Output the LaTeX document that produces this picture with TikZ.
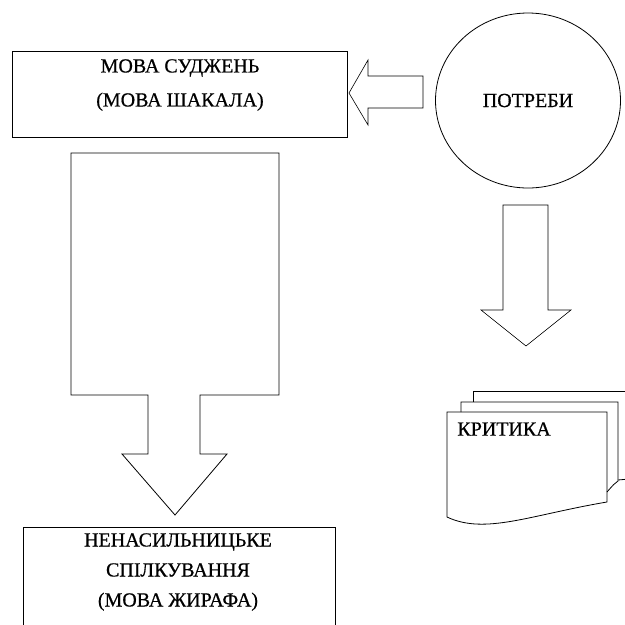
\documentclass[tikz,border=0pt]{standalone}
\usepackage{fontspec}
\setmainfont[FakeBold=0.6,AutoFakeBold=0.6]{Liberation Serif}

\usetikzlibrary{shapes.geometric}

\begin{document}
\begin{tikzpicture}[x=1pt,y=-1pt,line width=0.8pt,
    txt/.style={font=\fontsize{20}{34}\selectfont\bfseries,align=center,inner sep=0}]
    \useasboundingbox (0,0) rectangle (625,625);
    \clip (0,0) rectangle (625,625);
    % boxes
    \node[draw,minimum width=335,minimum height=86] (jackal) at (179.5,94) {};
    \node[txt] (jackaltext) at (180,85) {МОВА СУДЖЕНЬ\\(МОВА ШАКАЛА)};
    \draw (23,527) rectangle (335,650); % box cut by the edge
    \node[txt,font=\fontsize{20}{30}\selectfont\bfseries] (giraffe) at (178,572) {НЕНАСИЛЬНИЦЬКЕ\\СПІЛКУВАННЯ\\(МОВА ЖИРАФА)};
    \node[draw,ellipse,minimum width=185,minimum height=175,inner sep=0,font=\fontsize{20}{34}\selectfont\bfseries] (needs) at (528,100.5) {ПОТРЕБИ};
    % block arrows
    \draw[line width=0.6pt] (423,76)--(368,76)--(368,60)--(349,93)--(368,125)--(368,108)--(423,108)--cycle;
    \draw[line width=0.6pt] (503,205)--(548,205)--(548,310)--(571,310)--(526,346)--(481,310)--(503,310)--cycle;
    \draw (71,153)--(279,153)--(279,395)--(200,395)--(200,454)--(227,454)--(175,515)--(122,454)--(148,454)--(148,395)--(71,395)--cycle;
    % pages of the critique
    \draw (473,402)--(473,391)--(640,391);
    \draw (618,480)--(640,478);
    \draw (461,412)--(461,402)--(618,402)--(618,481) .. controls (614,484) .. (607,492);
    \draw (447,412)--(607,412)--(607,502) .. controls (530,515) and (485,535) .. (447,517)--cycle;
    \node[anchor=west,font=\fontsize{20}{34}\selectfont\bfseries,inner sep=0] (critique) at (457,429) {КРИТИКА};
\end{tikzpicture}
\end{document}
